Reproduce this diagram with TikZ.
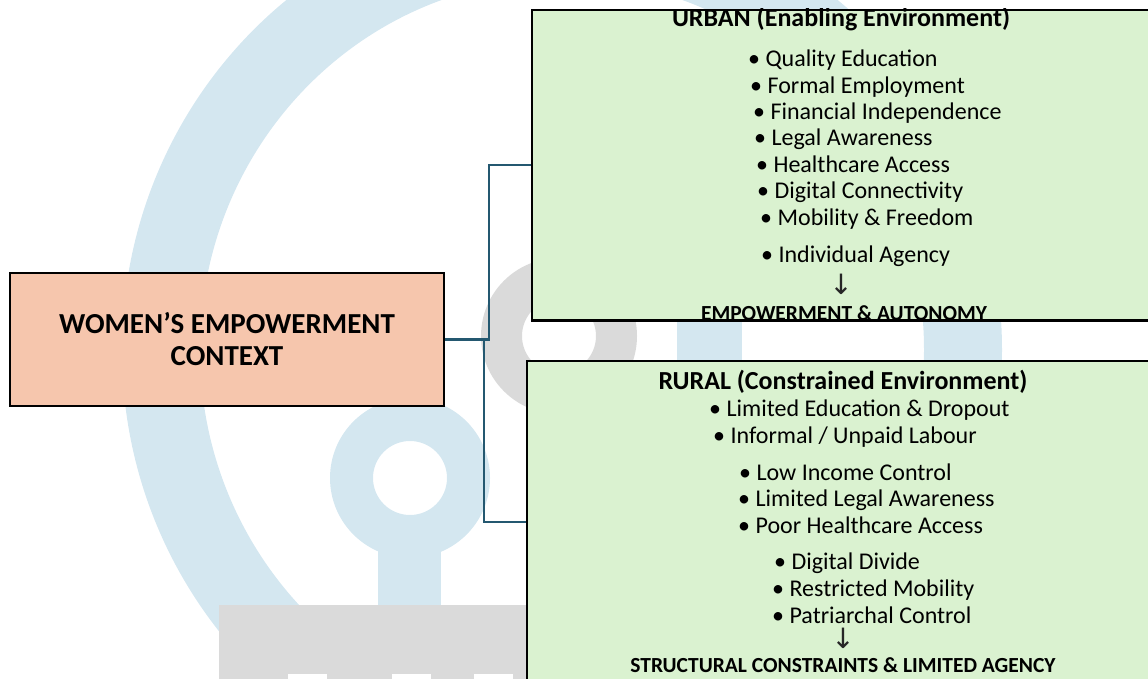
\documentclass[tikz,border=0pt]{standalone}
\usepackage{fontspec}
\setmainfont{Carlito}
\newfontfamily\arrowfont{DejaVu Sans}
\usetikzlibrary{calc}
\definecolor{wmblue}{RGB}{212,231,240}
\definecolor{wmgray}{RGB}{218,218,218}
\definecolor{salmon}{RGB}{246,198,173}
\definecolor{pale}{RGB}{218,242,208}
\definecolor{linkcol}{RGB}{36,88,112}
\tikzset{
  box/.style={draw=black, line width=2.2pt, inner sep=0pt},
  ctxbox/.style={box, fill=salmon, minimum width=434pt, minimum height=133pt,
    align=center, font=\fontsize{29}{32}\selectfont\bfseries},
  envbox/.style={box, fill=pale},
  link/.style={draw=linkcol, line width=2.2pt},
  item/.style={anchor=mid west, inner sep=0pt, font=\fontsize{24}{28}\selectfont},
  head/.style={anchor=mid, inner sep=0pt, font=\fontsize{26}{30}\selectfont\bfseries},
  foot/.style={anchor=mid, inner sep=0pt, font=\fontsize{21.5}{25}\selectfont\bfseries},
  downarrow/.style={anchor=mid, inner sep=0pt, font=\fontsize{28}{30}\selectfont\arrowfont\color{black!85}},
}
\begin{document}
\begin{tikzpicture}[x=1pt,y=-1pt]
\useasboundingbox (0,0) rectangle (1148,679);
\clip (0,0) rectangle (1148,679);
% watermark
\fill[wmblue, even odd rule] (562,350) ellipse [x radius=440, y radius=449]
  (562,350) ellipse [x radius=362, y radius=371];
\fill[wmblue] (677,290) rectangle (742,390);
\fill[wmblue, even odd rule] (410,478) circle [radius=80] (410,478) circle [radius=37];
\fill[wmblue] (378,540) rectangle (441,606);
\fill[wmgray, even odd rule] (559,336) circle [radius=78] (559,336) circle [radius=37];
\fill[wmgray] (219,605) rectangle (560,680);
\fill[white] (288,674) rectangle (327,680);
\fill[white] (392,674) rectangle (431,680);
\fill[white] (474,674) rectangle (513,680);
% boxes
\node[ctxbox] (ctx) at (227,339.5) {WOMEN’S EMPOWERMENT\\CONTEXT};
\node[envbox, minimum width=628pt, minimum height=310pt] (urban) at (846,165) {};
\node[envbox, minimum width=633pt, minimum height=322pt] (rural) at (843.5,522) {};
% connectors
\draw[link] (ctx.east) -- ++(44,0) |- (urban.west);
\draw[link] (ctx.east) -- ++(39,0) |- (rural.west);
% urban text
\begin{scope}
\clip (urban.north west) rectangle (urban.south east);
\node[head] (uh) at (841,24) {URBAN (Enabling Environment)};
\node[item] (u1) at (748,64) {• Quality Education};
\node[item] (u2) at (750,91) {• Formal Employment};
\node[item] (u3) at (753,117) {• Financial Independence};
\node[item] (u4) at (754,143) {• Legal Awareness};
\node[item] (u5) at (756,170) {• Healthcare Access};
\node[item] (u6) at (757,196) {• Digital Connectivity};
\node[item] (u7) at (760,223) {• Mobility \& Freedom};
\node[item] (u8) at (761,260) {• Individual Agency};
\node[downarrow] (ua) at (841,292) {↓};
\node[foot] (uf) at (844,318) {EMPOWERMENT \& AUTONOMY};
\end{scope}
\draw[black, line width=2.2pt] (urban.south west) -- (urban.south east);
% rural text
\node[head] (rh) at (843,387) {RURAL (Constrained Environment)};
\node[item] (r1) at (709,414) {• Limited Education \& Dropout};
\node[item] (r2) at (713,441) {• Informal / Unpaid Labour};
\node[item] (r3) at (739,478) {• Low Income Control};
\node[item] (r4) at (738,504) {• Limited Legal Awareness};
\node[item] (r5) at (738,531) {• Poor Healthcare Access};
\node[item] (r6) at (774,567) {• Digital Divide};
\node[item] (r7) at (772,594) {• Restricted Mobility};
\node[item] (r8) at (772,621) {• Patriarchal Control};
\node[downarrow] (ra) at (843,646) {↓};
\node[foot] (rf) at (843,670) {STRUCTURAL CONSTRAINTS \& LIMITED AGENCY};
\end{tikzpicture}
\end{document}
